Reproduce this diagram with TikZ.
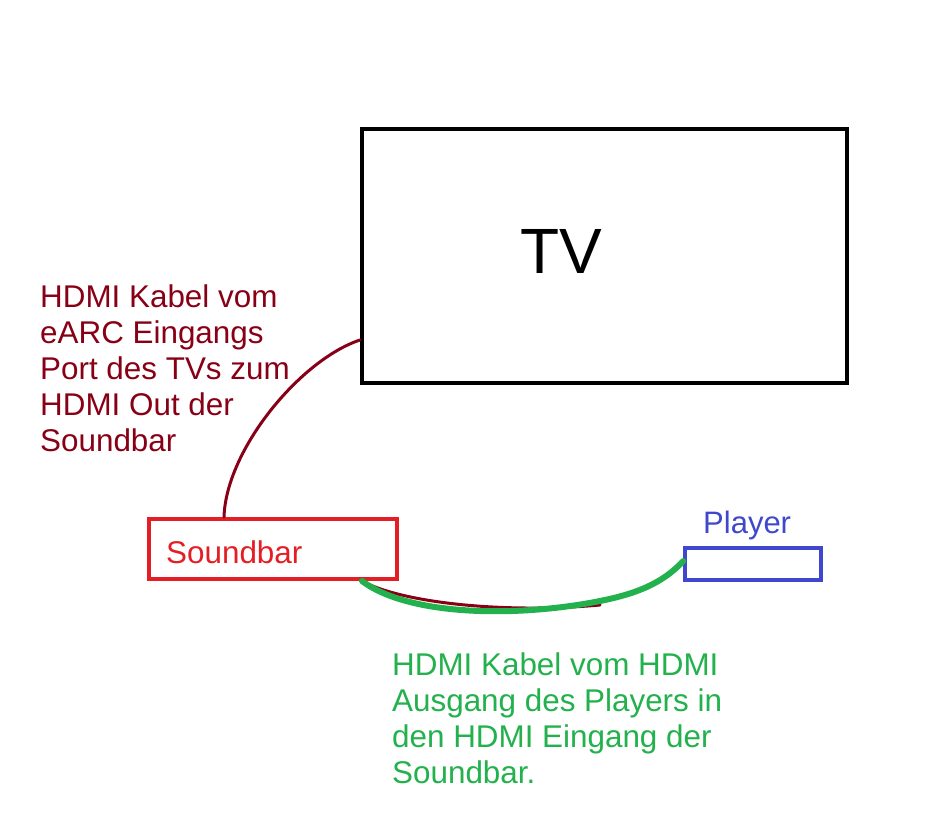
\documentclass[tikz,border=0pt]{standalone}
\usepackage{fontspec}
\setmainfont{Liberation Sans}
\definecolor{pdred}{RGB}{136,0,21}
\definecolor{pred}{RGB}{227,30,36}
\definecolor{pgreen}{RGB}{34,177,76}
\definecolor{pblue}{RGB}{63,72,204}
\begin{document}
\begin{tikzpicture}[x=1pt,y=-1pt,
  box/.style={draw,rectangle,inner sep=0pt,line width=4pt},
  lbl/.style={inner sep=0pt,anchor=base west,align=left,font=\fontsize{31.4}{36}\selectfont},
  cable/.style={line cap=round}]
\useasboundingbox (0,0) rectangle (934,824);
\node[box,black,minimum width=485pt,minimum height=254pt] (tv) at (604.5,256) {};
\node[box,pred,minimum width=248pt,minimum height=60pt] (sb) at (273,549) {};
\node[box,pblue,line width=3.5pt,minimum width=136pt,minimum height=32pt] (pl) at (753,564) {};
\node[inner sep=0pt,anchor=base west,font=\fontsize{64}{70}\selectfont] (tvl) at (520,273) {TV};
\node[lbl,pred] (sbl) at (166,563) {Soundbar};
\node[lbl,pblue,font=\fontsize{31}{36}\selectfont] (pll) at (703,533) {Player};
\node[lbl,pdred] (t1) at (40,451) {HDMI Kabel vom\\eARC Eingangs\\Port des TVs zum\\HDMI Out der\\Soundbar};
\node[lbl,pgreen] (t2) at (392,783) {HDMI Kabel vom HDMI\\Ausgang des Players in\\den HDMI Eingang der\\Soundbar.};
\draw[cable,pdred,line width=3pt] ([yshift=-84pt]tv.west) .. controls (300,360) and (226,450) .. ([xshift=-49pt]sb.north);
\draw[cable,pdred,line width=3pt] ([xshift=89pt]sb.south) .. controls (400,602) and (500,614) .. (600,605);
\draw[cable,pgreen,line width=6pt] ([xshift=89pt]sb.south) .. controls (410,617) and (520,617) .. (600,601) .. controls (635,594) and (662,584) .. ([yshift=3pt]pl.west);
\end{tikzpicture}
\end{document}
